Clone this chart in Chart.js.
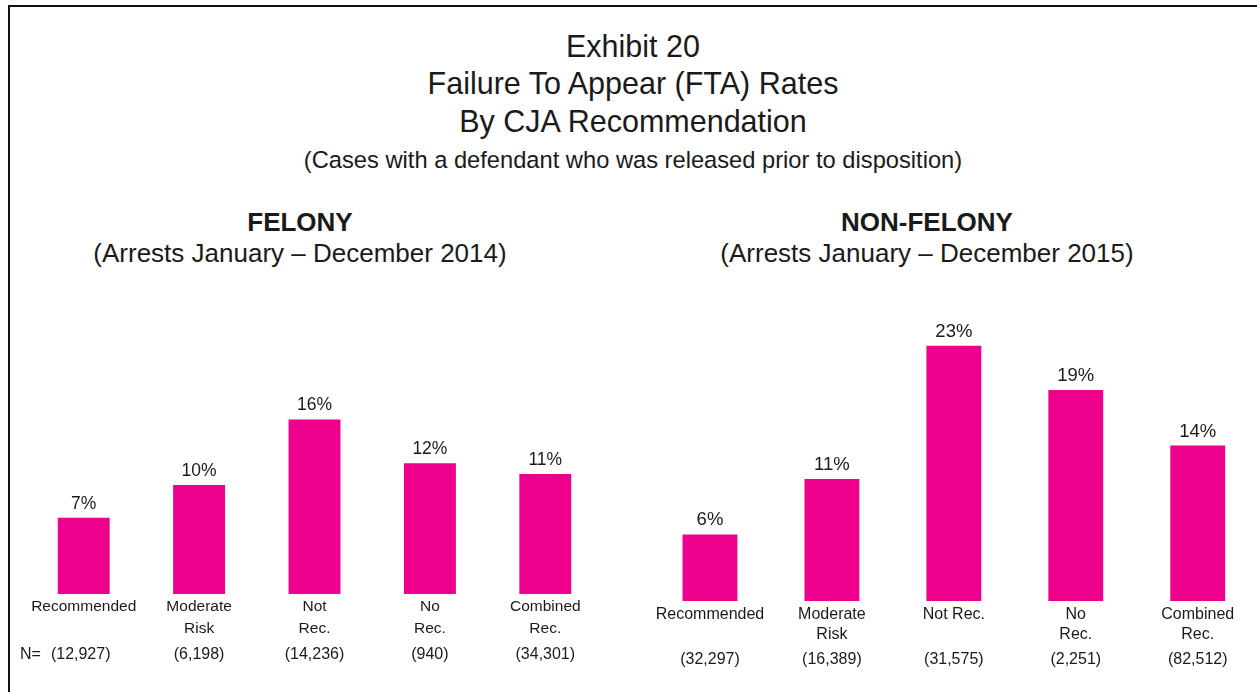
<!DOCTYPE html>
<html>
<head>
<meta charset="utf-8">
<title>Exhibit 20 - FTA Rates</title>
<script src="https://cdn.jsdelivr.net/npm/chart.js@4.4.1/dist/chart.umd.min.js"></script>
<style>
    body { margin: 0; background: #fff; width: 1257px; height: 692px; overflow: hidden; position: relative; font-family: "Liberation Sans", Arial, sans-serif; color: #1a1a1a; }
    .frame { position: absolute; left: 8px; top: 5px; width: 1260px; height: 700px; border-top: 2px solid #111; border-left: 2px solid #111; }
    .txt { position: absolute; width: 800px; text-align: center; white-space: nowrap; }
    canvas { position: absolute; }
</style>
</head>
<body>
<div class="frame"></div>

<div class="txt" style="left:233px; top:30px; font-size:30.5px; line-height:32px;">Exhibit 20</div>
<div class="txt" style="left:233px; top:67px; font-size:30.5px; line-height:32px;">Failure To Appear (FTA) Rates</div>
<div class="txt" style="left:233px; top:105px; font-size:30.5px; line-height:32px;">By CJA Recommendation</div>
<div class="txt" style="left:233px; top:147px; font-size:23.7px; line-height:26px;">(Cases with a defendant who was released prior to disposition)</div>

<div class="txt" style="left:-100px; top:208px; font-size:26px; line-height:28px; font-weight:bold;">FELONY</div>
<div class="txt" style="left:-100px; top:239px; font-size:26px; line-height:28px;">(Arrests January &ndash; December 2014)</div>
<div class="txt" style="left:527px; top:208px; font-size:26px; line-height:28px; font-weight:bold;">NON-FELONY</div>
<div class="txt" style="left:527px; top:239px; font-size:26px; line-height:28px;">(Arrests January &ndash; December 2015)</div>

<canvas id="felonyChart" width="610" height="380" style="left:0px; top:300px;"></canvas>
<canvas id="nonFelonyChart" width="620" height="380" style="left:640px; top:300px;"></canvas>

<script>
// chart data
var categories = ['Recommended', 'Moderate Risk', 'Not Rec.', 'No Rec.', 'Combined Rec.'];
var felonyLabels = [['Recommended'], ['Moderate', 'Risk'], ['Not', 'Rec.'], ['No', 'Rec.'], ['Combined', 'Rec.']];
var nonFelonyLabels = [['Recommended'], ['Moderate', 'Risk'], ['Not Rec.'], ['No', 'Rec.'], ['Combined', 'Rec.']];
var felonyRates = [7, 10, 16, 12, 11];
var nonFelonyRates = [6, 11, 23, 19, 14];
var felonyN = ['(12,927)', '(6,198)', '(14,236)', '(940)', '(34,301)'];
var nonFelonyN = ['(32,297)', '(16,389)', '(31,575)', '(2,251)', '(82,512)'];

var barColor = '#EC008C';
var textColor = '#1a1a1a';
var fontFamily = '"Liberation Sans", Arial, sans-serif';

// draws the % over each bar and the category / N text under it
var barTextPlugin = {
    id: 'barText',
    afterDatasetsDraw: function (chart, args, opts) {
        var ctx = chart.ctx;
        var meta = chart.getDatasetMeta(0);
        var base = chart.chartArea.bottom;
        var values = chart.data.datasets[0].data;
        ctx.save();
        ctx.fillStyle = textColor;
        ctx.textAlign = 'center';
        ctx.textBaseline = 'middle';
        meta.data.forEach(function (bar, i) {
            ctx.font = opts.pctSize + 'px ' + fontFamily;
            ctx.fillText(values[i] + '%', bar.x, bar.y - 14);

            ctx.font = opts.labelSize + 'px ' + fontFamily;
            opts.labels[i].forEach(function (line, j) {
                ctx.fillText(line, bar.x, base + opts.lineY[j]);
            });

            ctx.font = opts.nSize + 'px ' + fontFamily;
            ctx.fillText(opts.counts[i], bar.x + (opts.nShift ? opts.nShift[i] : 0), base + opts.nY);
        });
        if (opts.nPrefix) {
            ctx.textAlign = 'left';
            ctx.font = opts.nSize + 'px ' + fontFamily;
            ctx.fillText(opts.nPrefix, opts.nPrefixX, base + opts.nY);
        }
        ctx.restore();
    }
};

function makeChart(id, rates, labels, counts, padding, textOpts) {
    var ctx = document.getElementById(id).getContext('2d');
    return new Chart(ctx, {
        type: 'bar',
        data: {
            labels: categories,
            datasets: [{
                data: rates,
                backgroundColor: barColor,
                borderWidth: 0,
                barPercentage: 0.45,
                categoryPercentage: 1.0
            }]
        },
        options: {
            responsive: false,
            animation: false,
            devicePixelRatio: 1,
            layout: { padding: padding },
            scales: {
                x: { display: false },
                y: { display: false, min: 0, max: 25 }
            },
            plugins: {
                legend: { display: false },
                tooltip: { enabled: false },
                barText: Object.assign({ labels: labels, counts: counts }, textOpts)
            }
        },
        plugins: [barTextPlugin]
    });
}

var felonyChart = makeChart('felonyChart', felonyRates, felonyLabels, felonyN,
    { left: 26, right: 7, top: 21.5, bottom: 86 },
    { pctSize: 17.5, labelSize: 15.5, nSize: 16, lineY: [13, 35], nY: 61, nPrefix: 'N=', nPrefixX: 20, nShift: [-3, 0, 0, 0, 0] });

var nonFelonyChart = makeChart('nonFelonyChart', nonFelonyRates, nonFelonyLabels, nonFelonyN,
    { left: 9, right: 1.3, top: 23.5, bottom: 79 },
    { pctSize: 18.5, labelSize: 16, nSize: 16, lineY: [14, 34], nY: 59 });
</script>
</body>
</html>
